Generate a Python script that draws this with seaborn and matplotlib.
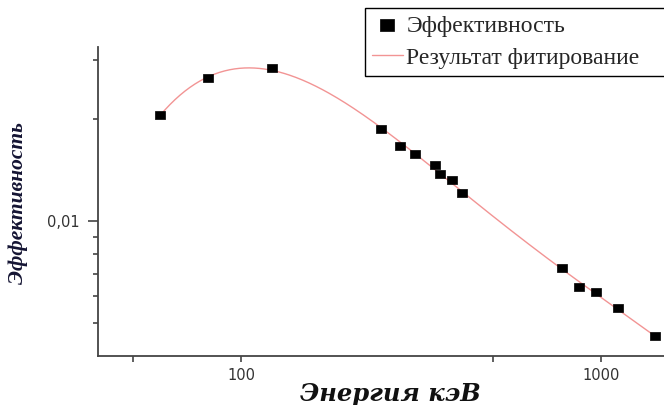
import numpy as np
import pandas as pd
import matplotlib
matplotlib.use("Agg")
import matplotlib.pyplot as plt
from matplotlib.ticker import FixedLocator, FixedFormatter, NullFormatter
import seaborn as sns

# ---- data ----
energy_kev = [59.5, 81.0, 122.0, 244.7, 276.4, 302.9, 344.3, 356.0, 383.8,
              411.0, 778.9, 867.4, 964.0, 1112.0, 1408.0]
efficiency = [0.0206, 0.0264, 0.0284, 0.0187, 0.0167, 0.01575, 0.01464, 0.0138,
              0.01325, 0.01213, 0.0073, 0.00639, 0.00618, 0.00555, 0.00457]

x_major = [100, 1000]
x_major_labels = ["100", "1000"]
x_minor = [50, 500]
y_major = [0.01]
y_major_labels = ["0,01"]
y_minor = [0.005, 0.006, 0.007, 0.008, 0.009, 0.02, 0.03]

label_points = "Эффективность"
label_fit = "Результат фитирование"
xlabel = "Энергия кэВ"
ylabel = "Эффективность"

# ---- fit (log-log polynomial, as the chart's fit result) ----
lx = np.log10(energy_kev)
ly = np.log10(efficiency)
coef = np.polyfit(lx, ly, 4)
fit_x = np.logspace(lx.min(), lx.max(), 300)
fit_y = 10 ** np.polyval(coef, np.log10(fit_x))

df_pts = pd.DataFrame({"E": energy_kev, "eff": efficiency})
df_fit = pd.DataFrame({"E": fit_x, "eff": fit_y})

sns.set_style("ticks")
plt.rcParams["font.family"] = ["DejaVu Sans"]

fig = plt.figure(figsize=(6.64, 4.05), dpi=100)
ax = fig.add_axes([98 / 664, 49 / 405, 566 / 664, 309 / 405])

rect = [(-1, -0.8), (1, -0.8), (1, 0.8), (-1, 0.8), (-1, -0.8)]
sns.lineplot(data=df_fit, x="E", y="eff", ax=ax, color="#f29494", lw=1.0,
             label=label_fit, zorder=2)
sns.scatterplot(data=df_pts, x="E", y="eff", ax=ax, marker=rect, s=50,
                color="black", edgecolor="black", linewidth=0.5,
                label=label_points, zorder=3)

ax.set_xscale("log")
ax.set_yscale("log")
ax.set_xlim(40, 1493)
ax.set_ylim(0.004, 0.0327)

ax.xaxis.set_major_locator(FixedLocator(x_major))
ax.xaxis.set_major_formatter(FixedFormatter(x_major_labels))
ax.xaxis.set_minor_locator(FixedLocator(x_minor))
ax.xaxis.set_minor_formatter(NullFormatter())
ax.yaxis.set_major_locator(FixedLocator(y_major))
ax.yaxis.set_major_formatter(FixedFormatter(y_major_labels))
ax.yaxis.set_minor_locator(FixedLocator(y_minor))
ax.yaxis.set_minor_formatter(NullFormatter())

for s in ["top", "right"]:
    ax.spines[s].set_visible(False)
for s in ["left", "bottom"]:
    ax.spines[s].set_color("#444444")
    ax.spines[s].set_linewidth(1.3)

ax.tick_params(axis="x", which="major", length=4, width=1.2, color="#444444",
               labelsize=10.5, labelcolor="#333333", pad=5)
ax.tick_params(axis="x", which="minor", length=4, width=1.2, color="#444444")
ax.tick_params(axis="y", which="major", length=7, width=1.2, color="#444444",
               labelsize=10.5, labelcolor="#333333", pad=6)
ax.tick_params(axis="y", which="minor", length=3.6, width=1.2, color="#444444")

ax.set_xlabel(xlabel, family="DejaVu Serif", weight="bold", style="italic",
              fontsize=17.5, color="#111111")
ax.xaxis.set_label_coords((390 - 98) / 566, -0.085)
ax.set_ylabel(ylabel, family="Liberation Serif", weight="bold", style="italic",
              fontsize=15.5, color="#141433")
ax.yaxis.set_label_coords(-0.124, (356 - 203.5) / 309)

handles, labels = ax.get_legend_handles_labels()
order = [labels.index(label_points), labels.index(label_fit)]
leg = ax.legend([handles[i] for i in order], [labels[i] for i in order],
                loc="upper left",
                bbox_to_anchor=(365 / 664, 1 - 8 / 405, 302 / 664, 0),
                mode="expand",
                bbox_transform=fig.transFigure, frameon=True, fancybox=False,
                edgecolor="black", framealpha=1, borderpad=0.3,
                handlelength=1.3, handletextpad=0.15, labelspacing=0.45,
                markerscale=1.5, borderaxespad=0,
                prop={"family": "Liberation Serif", "size": 17})
leg.get_frame().set_linewidth(1.0)
leg.set_zorder(5)

fig.savefig("out.png", dpi=100, facecolor="white")
